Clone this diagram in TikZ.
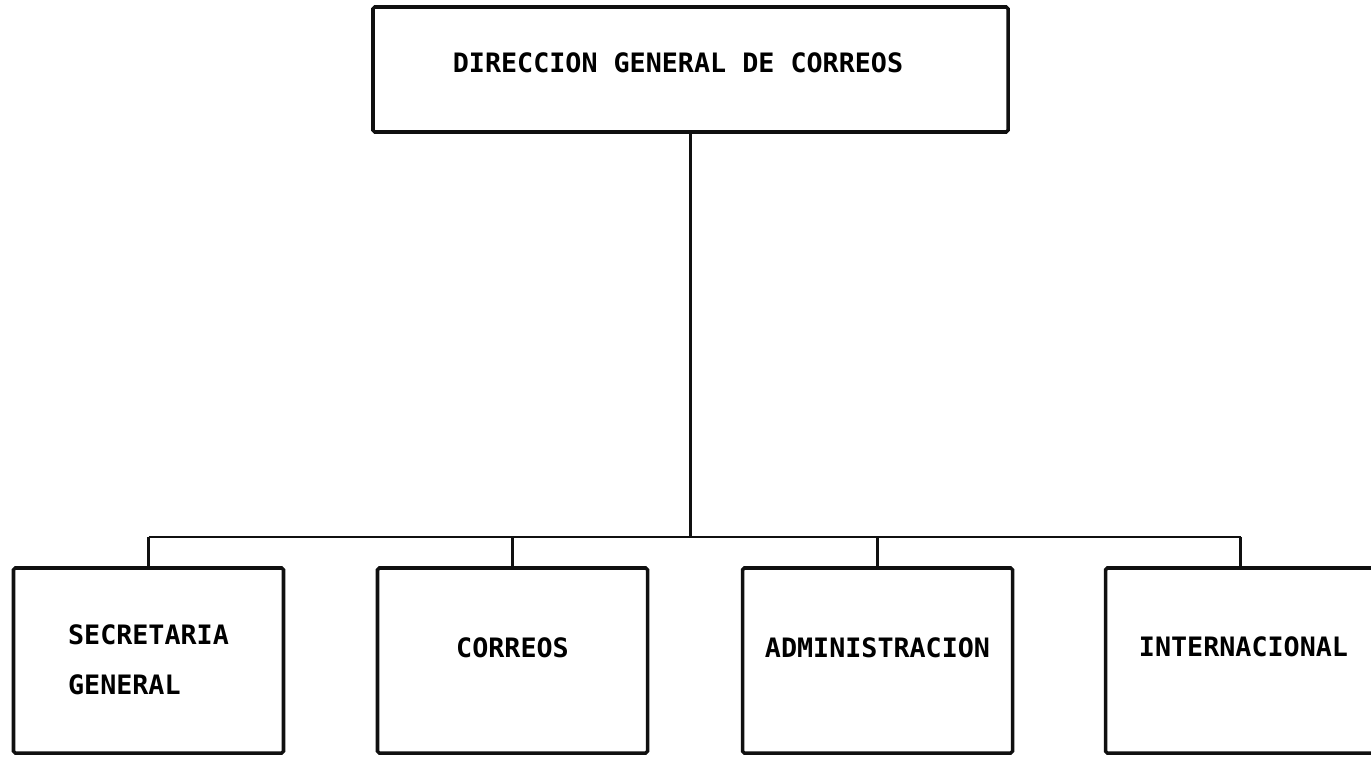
\documentclass[tikz,border=0pt]{standalone}
\usepackage{fontspec}
\newfontfamily\orgfont{DejaVu Sans Mono}
\usepackage{tikz}
\usetikzlibrary{positioning,calc}
\definecolor{orgink}{HTML}{101010}

\begin{document}
\begin{tikzpicture}[
    x=1cm,y=1cm,
    hd/.style   = {rectangle,rounded corners=1pt,draw=orgink,line width=2pt,
                   align=center,font=\orgfont\bfseries\fontsize{15.2}{18}\selectfont,
                   minimum width=12.7cm,minimum height=2.5cm,inner sep=0pt,
                   text height=0.4cm,text depth=0.28cm},
    bx/.style   = {rectangle,rounded corners=1pt,draw=orgink,line width=2pt,
                   align=center,font=\orgfont\bfseries\fontsize{15.2}{28.4}\selectfont,
                   minimum width=5.4cm,minimum height=3.7cm,inner sep=0pt,
                   text height=0.4cm,text depth=0.52cm},
    stem/.style = {orgink,line width=2pt},
    bus/.style  = {orgink,line width=1.3pt},
  ]
  \useasboundingbox (0,0) rectangle (27.42,15.14);

  \node[hd] (dir) at (13.81,13.75) {DIRECCION GENERAL DE CORREOS\hspace*{0.5cm}};

  \node[bx,align=left,text height=1.36cm,text depth=0pt] (sec) at (2.97,1.93)
       {SECRETARIA\\GENERAL};
  \node[bx] (cor) at (10.25,1.93) {CORREOS};
  \node[bx] (adm) at (17.55,1.93) {ADMINISTRACION};
  \node[bx,text depth=0.56cm] (int) at (24.81,1.93) {\hspace*{0.12cm}INTERNACIONAL};

  \coordinate (bus) at (dir.south |- 0,4.4);

  \draw[stem] (dir.south) -- (bus);
  \draw[bus] (bus -| sec.north) -- (bus -| int.north);
  \foreach \n in {sec,cor,adm,int}
    \draw[stem] (bus -| \n.north) -- (\n.north);

\end{tikzpicture}
\end{document}
